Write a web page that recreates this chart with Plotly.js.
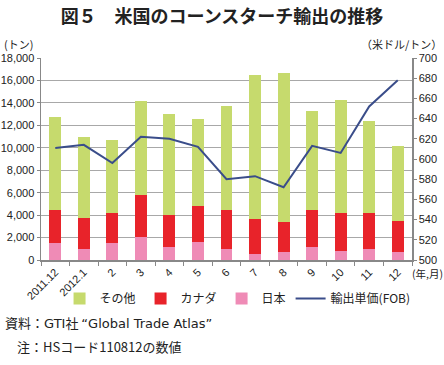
<!DOCTYPE html>
<html><head><meta charset="utf-8">
<script src="https://cdn.plot.ly/plotly-3.0.1.min.js"></script>
<style>html,body{margin:0;padding:0;background:#fff}#c{width:444px;height:365px}</style>
</head><body><div id="c"></div>
<script>
const categories = ["2011.12","2012.1","2","3","4","5","6","7","8","9","10","11","12"];
const japan  = [1500,1000,1550,2050,1200,1600,1000,500,700,1150,800,950,750];
const canadaTop = [4500,3700,4150,5750,4000,4850,4450,3650,3400,4500,4200,4200,3500];
const totalTop  = [12750,10950,10700,14200,13000,12550,13750,16500,16650,13300,14250,12350,10200];
const price = [611,614,596,622,620,612,580,583,572,613,606,652,678];
const canada = canadaTop.map((v,i)=>v-japan[i]);
const other = totalTop.map((v,i)=>v-canadaTop[i]);

const F = "Liberation Sans, Noto Sans CJK JP, sans-serif";
const JF = "Noto Sans CJK JP, sans-serif";

const traces = [
  {type:'bar', name:'日本', x:categories, y:japan, marker:{color:'#ef8bb6'}, legendrank:3},
  {type:'bar', name:'カナダ', x:categories, y:canada, marker:{color:'#e8232a'}, legendrank:2},
  {type:'bar', name:'その他', x:categories, y:other, marker:{color:'#c6da6d'}, legendrank:1},
  {type:'scatter', mode:'lines', name:'輸出単価(FOB)', x:categories, y:price, yaxis:'y2',
   line:{color:'#3a4d8a', width:2}, legendrank:4}
];

const layout = {
  width:444, height:365,
  margin:{l:41, r:32, t:58, b:105},
  paper_bgcolor:'#fff', plot_bgcolor:'#fff',
  barmode:'stack', bargap:0.58,
  showlegend:true,
  font:{family:F, size:11, color:'#222'},
  title:{text:'<b>図５　米国のコーンスターチ輸出の推移</b>', font:{family:JF, size:18, color:'#222'}, x:0.5, xanchor:'center', y:0.955, yanchor:'middle'},
  xaxis:{type:'category', tickangle:-45, tickfont:{size:11, family:F}, showline:true, linecolor:'#888', linewidth:1.5,
    ticks:'outside', tickson:'boundaries', ticklen:4, tickcolor:'#888', showgrid:false, fixedrange:true},
  yaxis:{range:[0,18000], dtick:2000, tickformat:',d', showline:true, linecolor:'#888', linewidth:1.5,
    ticks:'outside', ticklen:3, tickcolor:'#888', gridcolor:'#a8a8a8', gridwidth:1, zeroline:false, tickfont:{size:11}},
  yaxis2:{range:[500,700], dtick:20, overlaying:'y', side:'right', showline:true, linecolor:'#888', linewidth:1.5,
    ticks:'outside', ticklen:3, tickcolor:'#888', showgrid:false, zeroline:false, tickfont:{size:11}},
  legend:{orientation:'h', x:0.05, xanchor:'left', y:-0.19, yanchor:'middle', font:{family:JF, size:12},
    itemwidth:30, traceorder:'normal', bgcolor:'rgba(0,0,0,0)'},
  annotations:[
    {xref:'paper', yref:'paper', x:-0.105, y:1.07, xanchor:'left', yanchor:'middle', text:'(トン)', showarrow:false, font:{family:JF, size:11}},
    {xref:'paper', yref:'paper', x:1.085, y:1.07, xanchor:'right', yanchor:'middle', text:'（米ドル/トン）', showarrow:false, font:{family:JF, size:11}},
    {xref:'paper', yref:'paper', x:1.088, y:-0.065, xanchor:'right', yanchor:'middle', text:'(年,月)', showarrow:false, font:{family:JF, size:10.5}},
    {xref:'paper', yref:'paper', x:-0.103, y:-0.31, xanchor:'left', yanchor:'middle', text:'資料：<span style="font-family:DejaVu Sans">GTI</span>社 <span style="font-family:DejaVu Sans">“Global Trade Atlas”</span>', showarrow:false, font:{family:JF, size:13}},
    {xref:'paper', yref:'paper', x:-0.07, y:-0.43, xanchor:'left', yanchor:'middle', text:'注：HSコード110812の数値', showarrow:false, font:{family:JF, size:13}}
  ]
};
Plotly.newPlot('c', traces, layout, {displayModeBar:false, staticPlot:true});
</script></body></html>
